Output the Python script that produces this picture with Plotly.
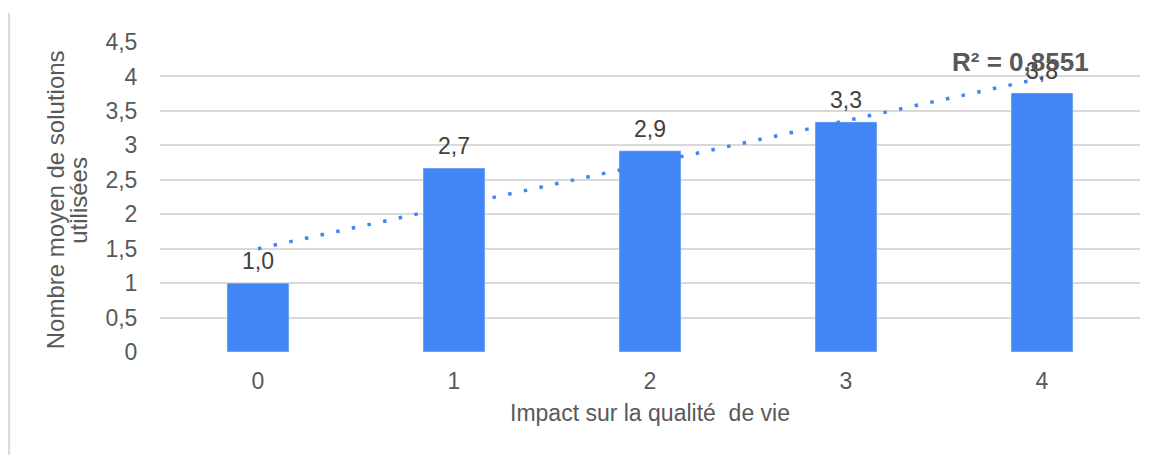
import numpy as np
import plotly.graph_objects as go

categories = [0, 1, 2, 3, 4]
values = [1.0, 2.67, 2.92, 3.34, 3.76]
bar_labels = ["1,0", "2,7", "2,9", "3,3", "3,8"]
r2_text = "R² = 0,8551"
y_ticks = [0, 0.5, 1, 1.5, 2, 2.5, 3, 3.5, 4, 4.5]
y_title_lines = ["Nombre moyen de solutions", "utilisées"]
x_title = "Impact sur la qualité  de vie"

x_arr = np.array(categories, dtype=float)
y_arr = np.array(values)
slope, intercept = np.polyfit(x_arr, y_arr, 1)
trend_y = slope * x_arr + intercept

font_family = "Liberation Sans, Arial, sans-serif"
grey = "#595959"
blue = "#4285f4"

fig = go.Figure()
fig.add_trace(go.Scatter(
    x=categories, y=trend_y, mode="lines",
    line=dict(color=blue, width=3.5, dash="3.5px,12.5px"),
    showlegend=False, hoverinfo="skip",
))
fig.add_trace(go.Bar(
    x=categories, y=values, marker_color=blue, width=0.316,
    showlegend=False,
))

for c, v, lab in zip(categories, values, bar_labels):
    fig.add_annotation(x=c, y=v, text=lab, showarrow=False, yanchor="bottom",
                       yshift=7, font=dict(size=23, color="#404040", family=font_family))

fig.add_annotation(x=3.89, y=4.21, text="<b>" + r2_text + "</b>", showarrow=False,
                   font=dict(size=26, color=grey, family=font_family))

# y-axis title as two tightly spaced rotated lines
for xp, line in zip([-0.107, -0.084], y_title_lines):
    fig.add_annotation(xref="paper", yref="paper", x=xp, y=0.49, text=line,
                       textangle=-90, showarrow=False, xanchor="center", yanchor="middle",
                       font=dict(size=24, color=grey, family=font_family))

fig.add_shape(type="line", xref="paper", yref="paper", x0=-0.154, x1=-0.154,
              y0=1.094, y1=-0.4, line=dict(color="#d9d9d9", width=2))

fig.update_layout(
    width=1162, height=455,
    margin=dict(l=152, r=30, t=34, b=111),
    plot_bgcolor="white", paper_bgcolor="white",
    separators=", ",
    font=dict(family=font_family, size=23, color=grey),
    xaxis=dict(
        range=[-0.5, 4.5], tickvals=categories, ticktext=[str(c) for c in categories],
        showgrid=False, zeroline=False, showline=False,
        ticks="outside", ticklen=8, tickcolor="rgba(0,0,0,0)",
        tickfont=dict(size=23, color=grey),
        title=dict(text=x_title, font=dict(size=23, color=grey), standoff=12),
    ),
    yaxis=dict(
        range=[0, 4.5], tickvals=y_ticks, tickformat="",
        showgrid=True, gridcolor="#d9d9d9", gridwidth=1.5,
        zeroline=False, showline=False,
        ticks="outside", ticklen=17, tickcolor="rgba(0,0,0,0)",
        tickfont=dict(size=23, color=grey),
    ),
)

fig.write_html("out.html")
